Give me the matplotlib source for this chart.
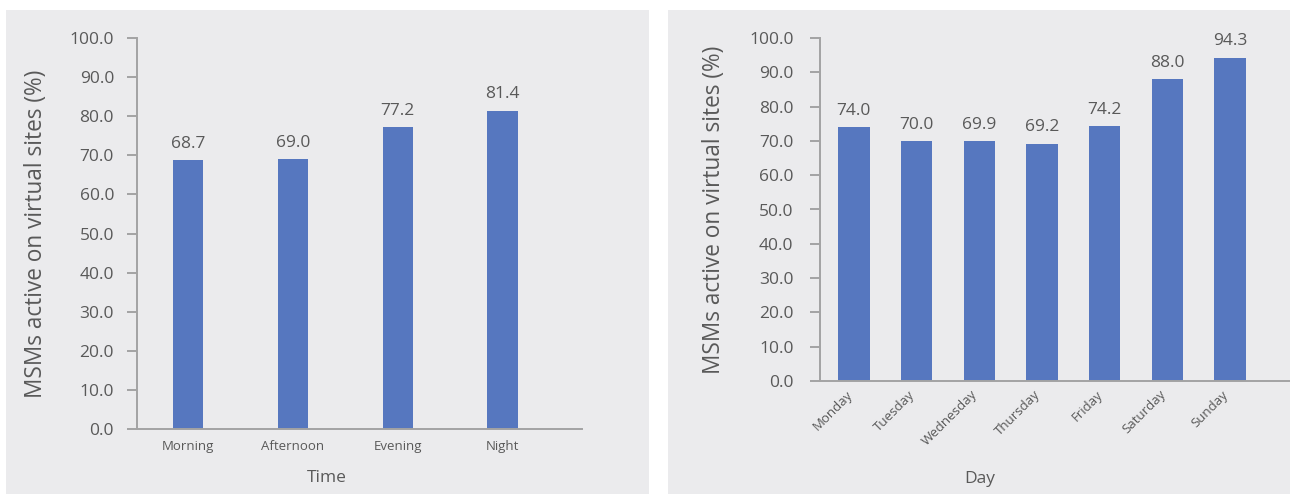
import matplotlib
matplotlib.use("Agg")
import matplotlib.pyplot as plt
from matplotlib.patches import Rectangle
from matplotlib.transforms import ScaledTranslation

# Data
time_categories = ["Morning", "Afternoon", "Evening", "Night"]
time_values = [68.7, 69.0, 77.2, 81.4]

day_categories = ["Monday", "Tuesday", "Wednesday", "Thursday", "Friday", "Saturday", "Sunday"]
day_values = [74.0, 70.0, 69.9, 69.2, 74.2, 88.0, 94.3]

y_ticks = [0, 10, 20, 30, 40, 50, 60, 70, 80, 90, 100]
y_label = "MSMs active on virtual sites (%)"

# Style
W, H = 1290, 495
BAR = "#5677BF"
PANEL = "#EBEBED"
AXIS = "#A3A3A3"
TEXT = "#595959"
plt.rcParams["font.family"] = ["Open Sans", "DejaVu Sans"]

fig = plt.figure(figsize=(W / 100, H / 100), dpi=100, facecolor="white")

# Grey panels behind each chart
fig.patches.append(Rectangle((6 / W, 1 / H), 643 / W, 484 / H, transform=fig.transFigure,
                             facecolor=PANEL, edgecolor="none", zorder=-10))
fig.patches.append(Rectangle((668 / W, 1 / H), 622 / W, 484 / H, transform=fig.transFigure,
                             facecolor=PANEL, edgecolor="none", zorder=-10))


def make_axes(px_left, px_right, px_top, px_bottom, tick_pad):
    ax = fig.add_axes([px_left / W, (H - px_bottom) / H,
                       (px_right - px_left) / W, (px_bottom - px_top) / H])
    ax.set_zorder(1)
    ax.set_facecolor("none")
    for s in ("top", "right"):
        ax.spines[s].set_visible(False)
    for s in ("left", "bottom"):
        ax.spines[s].set_color(AXIS)
        ax.spines[s].set_linewidth(1.4)
    ax.set_ylim(0, 100)
    ax.set_yticks(y_ticks)
    ax.set_yticklabels([f"{t:.1f}" for t in y_ticks])
    ax.tick_params(axis="y", direction="out", length=7, width=1.4, color=AXIS,
                   labelcolor=TEXT, labelsize=12.5, pad=tick_pad)
    ax.tick_params(axis="x", length=0, labelcolor=TEXT)
    return ax


# Left chart: time of day
ax1 = make_axes(137, 582, 38, 429, tick_pad=9.5)
x1 = range(len(time_categories))
bars1 = ax1.bar(x1, time_values, width=0.29, color=BAR, zorder=2)
ax1.set_xlim(-0.49, 3.76)
ax1.set_xticks(list(x1))
ax1.set_xticklabels(time_categories, fontsize=9.5)
ax1.tick_params(axis="x", pad=8)
for b, v in zip(bars1, time_values):
    ax1.annotate(f"{v:.1f}", (b.get_x() + b.get_width() / 2, v), xytext=(0, 6),
                 textcoords="offset points", ha="center", va="bottom",
                 fontsize=12.5, color=TEXT)
ax1.set_xlabel("Time", fontsize=12.5, color=TEXT)
ax1.xaxis.set_label_coords(0.427, -0.105)
ax1.set_ylabel(y_label, fontsize=16.3, color=TEXT)
ax1.yaxis.set_label_coords(-0.199, 0.5)

# Right chart: day of week
ax2 = make_axes(820, 1290, 38, 381, tick_pad=12)
x2 = range(len(day_categories))
bars2 = ax2.bar(x2, day_values, width=0.5, color=BAR, zorder=2)
ax2.set_xlim(-0.54, 6.96)
ax2.set_xticks(list(x2))
ax2.set_xticklabels(day_categories, fontsize=9.5, rotation=45, ha="right",
                    rotation_mode="anchor")
ax2.tick_params(axis="x", pad=5)
shift = ScaledTranslation(-8 / 100, 0, fig.dpi_scale_trans)
for lbl in ax2.get_xticklabels():
    lbl.set_transform(lbl.get_transform() + shift)
for b, v in zip(bars2, day_values):
    ax2.annotate(f"{v:.1f}", (b.get_x() + b.get_width() / 2, v), xytext=(0, 6),
                 textcoords="offset points", ha="center", va="bottom",
                 fontsize=12.5, color=TEXT)
ax2.set_xlabel("Day", fontsize=12.5, color=TEXT)
ax2.xaxis.set_label_coords(0.34, -0.262)
ax2.set_ylabel(y_label, fontsize=16.3, color=TEXT)
ax2.yaxis.set_label_coords(-0.201, 0.5)

fig.savefig("out.png", dpi=100, facecolor="white")
